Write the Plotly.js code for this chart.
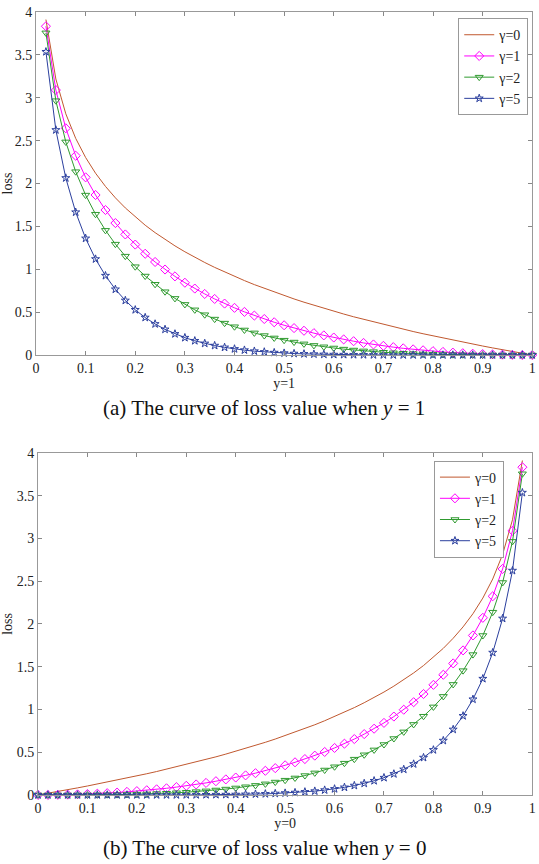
<!DOCTYPE html>
<html><head><meta charset="utf-8">
<script src="https://cdn.plot.ly/plotly-3.0.1.min.js"></script>
<style>html,body{margin:0;padding:0;background:#fff;}#plot{width:539px;height:864px;}</style>
</head><body><div id="plot"></div>
<script>
// predicted probability for the y=1 panel
const xPos = [0.02,0.04,0.06,0.08,0.10,0.12,0.14,0.16,0.18,0.20,0.22,0.24,0.26,0.28,0.30,0.32,0.34,0.36,0.38,0.40,0.42,0.44,0.46,0.48,0.50,0.52,0.54,0.56,0.58,0.60,0.62,0.64,0.66,0.68,0.70,0.72,0.74,0.76,0.78,0.80,0.82,0.84,0.86,0.88,0.90,0.92,0.94,0.96,0.98,1.00];
// x positions for the y=0 panel
const xNeg = [0.98,0.96,0.94,0.92,0.90,0.88,0.86,0.84,0.82,0.80,0.78,0.76,0.74,0.72,0.70,0.68,0.66,0.64,0.62,0.60,0.58,0.56,0.54,0.52,0.50,0.48,0.46,0.44,0.42,0.40,0.38,0.36,0.34,0.32,0.30,0.28,0.26,0.24,0.22,0.20,0.18,0.16,0.14,0.12,0.10,0.08,0.06,0.04,0.02,0.00];
const lossG0 = [3.912,3.219,2.813,2.526,2.303,2.120,1.966,1.833,1.715,1.609,1.514,1.427,1.347,1.273,1.204,1.139,1.079,1.022,0.968,0.916,0.868,0.821,0.777,0.734,0.693,0.654,0.616,0.580,0.545,0.511,0.478,0.446,0.416,0.386,0.357,0.329,0.301,0.274,0.248,0.223,0.198,0.174,0.151,0.128,0.105,0.083,0.062,0.041,0.020,0.000];
const lossG1 = [3.834,3.090,2.644,2.324,2.072,1.866,1.691,1.539,1.406,1.288,1.181,1.085,0.997,0.917,0.843,0.775,0.712,0.654,0.600,0.550,0.503,0.460,0.420,0.382,0.347,0.314,0.283,0.255,0.229,0.204,0.182,0.161,0.141,0.123,0.107,0.092,0.078,0.066,0.055,0.045,0.036,0.028,0.021,0.015,0.011,0.007,0.004,0.002,0.000,0.000];
const lossG2 = [3.757,2.966,2.485,2.138,1.865,1.642,1.454,1.293,1.153,1.030,0.921,0.825,0.738,0.660,0.590,0.527,0.470,0.419,0.372,0.330,0.292,0.258,0.227,0.199,0.173,0.151,0.130,0.112,0.096,0.082,0.069,0.058,0.048,0.039,0.032,0.026,0.020,0.016,0.012,0.009,0.006,0.004,0.003,0.002,0.001,0.001,0.000,0.000,0.000,0.000];
const lossG5 = [3.536,2.624,2.064,1.665,1.360,1.119,0.925,0.766,0.636,0.527,0.437,0.362,0.299,0.246,0.202,0.166,0.135,0.110,0.089,0.071,0.057,0.045,0.036,0.028,0.022,0.017,0.013,0.010,0.007,0.005,0.004,0.003,0.002,0.001,0.001,0,0,0,0,0,0,0,0,0,0,0,0,0,0,0];
const seriesNames = ['γ=0','γ=1','γ=2','γ=5'];
const xTickVals = [0,0.1,0.2,0.3,0.4,0.5,0.6,0.7,0.8,0.9,1];
const xTickText = ['0','0.1','0.2','0.3','0.4','0.5','0.6','0.7','0.8','0.9','1'];
const yTickVals = [0,0.5,1,1.5,2,2.5,3,3.5,4];
const yTickText = ['0','0.5','1','1.5','2','2.5','3','3.5','4'];

const FONT = "'Liberation Serif', 'Times New Roman', serif";
const styles = [
  {color:'#c0582f', mode:'lines', marker:{}},
  {color:'#ff00ff', mode:'lines+markers', marker:{symbol:'diamond-open', size:7}},
  {color:'#2f9a2f', mode:'lines+markers', marker:{symbol:'triangle-down-open', size:7}},
  {color:'#2b3f9e', mode:'lines+markers', marker:{symbol:'star-open', size:6}}
];
const losses = [lossG0, lossG1, lossG2, lossG5];
const traces = [];
[['x','y',xPos,'legend'],['x2','y2',xNeg,'legend2']].forEach(([xa,ya,xs,lg])=>{
  losses.forEach((ys,i)=>{
    const s = styles[i];
    traces.push({
      x: xs, y: ys, type:'scatter', mode:s.mode, name:seriesNames[i],
      xaxis:xa, yaxis:ya, legend:lg, cliponaxis:false,
      line:{color:s.color, width:1},
      marker:Object.assign({color:s.color, line:{color:s.color, width:1}}, s.marker)
    });
  });
});

function xaxis(domain, title){
  return {domain:domain, range:[0,1], tickvals:xTickVals, ticktext:xTickText,
    ticks:'inside', ticklen:4, tickcolor:'#888', mirror:'ticks', showline:true, linecolor:'#999', linewidth:1,
    showgrid:false, zeroline:false, tickfont:{family:FONT,size:14,color:'#222'},
    title:{text:title, font:{family:FONT,size:14,color:'#222'}, standoff:0}, automargin:false};
}
function yaxis(domain){
  return {domain:domain, range:[0,4], tickvals:yTickVals, ticktext:yTickText,
    ticks:'inside', ticklen:4, tickcolor:'#888', mirror:'ticks', showline:true, linecolor:'#999', linewidth:1,
    showgrid:false, zeroline:false, tickfont:{family:FONT,size:14,color:'#222'}, ticklabelstandoff:0,
    title:{text:'loss', font:{family:FONT,size:14,color:'#222'}, standoff:2}, automargin:false};
}
const legendStyle = {font:{family:FONT,size:14,color:'#222'}, bgcolor:'#fff', bordercolor:'#999', borderwidth:1,
  xanchor:'right', yanchor:'top', itemwidth:30, tracegroupgap:0};

const layout = {
  width:539, height:864, margin:{l:0,r:0,t:0,b:0}, paper_bgcolor:'#fff', plot_bgcolor:'#fff',
  font:{family:FONT},
  xaxis: xaxis([0.0668,0.9875],'y=1'),
  yaxis: Object.assign(yaxis([0.5891,0.9861]),{anchor:'x'}),
  xaxis2: Object.assign(xaxis([0.0705,0.9875],'y=0'),{anchor:'y2'}),
  yaxis2: Object.assign(yaxis([0.0799,0.4757]),{anchor:'x2'}),
  legend: Object.assign({x:0.98, y:0.979}, legendStyle),
  legend2: Object.assign({x:0.935, y:0.467}, legendStyle),
  annotations:[
    {text:'(a) The curve of loss value when <i>y</i> = 1', xref:'paper', yref:'paper', x:0.49, y:1-408/864,
     xanchor:'center', yanchor:'middle', showarrow:false, font:{family:FONT,size:21,color:'#111'}},
    {text:'(b) The curve of loss value when <i>y</i> = 0', xref:'paper', yref:'paper', x:0.49, y:1-848/864,
     xanchor:'center', yanchor:'middle', showarrow:false, font:{family:FONT,size:21,color:'#111'}}
  ]
};
Plotly.newPlot('plot', traces, layout, {displayModeBar:false, staticPlot:true});
</script></body></html>
